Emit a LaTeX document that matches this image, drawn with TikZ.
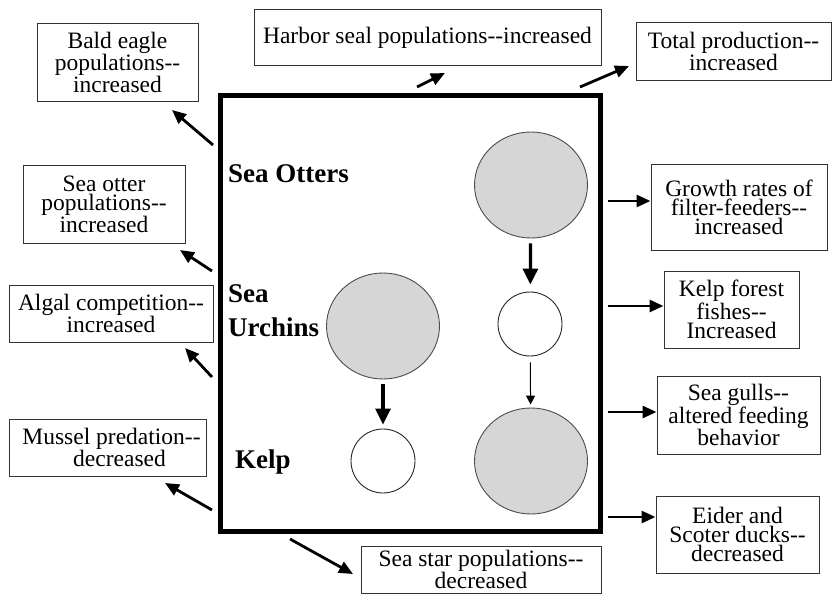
\documentclass[tikz,border=0pt]{standalone}
\usepackage{fontspec}
\setmainfont{Liberation Serif}
\usetikzlibrary{arrows.meta,shapes.geometric}
\begin{document}
\begin{tikzpicture}[x=1pt,y=-1pt,
  infobox/.style={draw=black!80, line width=1pt, align=center, inner sep=0pt,
    font=\fontsize{23.5}{19}\selectfont},
  biglabel/.style={font=\fontsize{27}{34}\selectfont\bfseries, inner sep=0pt, align=left},
  greycirc/.style={ellipse, draw=black!70, line width=0.9pt, fill=black!16,
    minimum width=113pt, minimum height=106pt, inner sep=0pt},
  whitecirc/.style={circle, draw=black!85, line width=0.9pt, fill=white,
    minimum size=64pt, inner sep=0pt},
  outarrow/.style={line width=2.8pt, -{Triangle[length=14pt,width=12pt]}},
  thickarrow/.style={line width=3.2pt, -{Triangle[length=16pt,width=15pt]}},
  thinarrow/.style={line width=1pt, -{Triangle[length=9pt,width=9pt]}}
]
\useasboundingbox (0,0) rectangle (832,594);

% main frame
\node[draw=black, line width=5pt, minimum width=380pt, minimum height=436pt, inner sep=0pt] (frame) at (410,313) {};

% labels inside
\node[biglabel, anchor=base west] (lotters) at (228,182) {Sea Otters};
\node[biglabel, anchor=west] (lurchins) at (228,311) {Sea\\Urchins};
\node[biglabel, anchor=base west] (lkelp) at (235,468) {Kelp};

% circles
\node[greycirc] (otterhigh) at (531,185) {};
\node[whitecirc] (urchinlow) at (530,324) {};
\node[greycirc] (kelphigh) at (531,461) {};
\node[greycirc] (urchinhigh) at (383,326) {};
\node[whitecirc] (kelplow) at (383,461) {};

\draw[thickarrow, shorten <=5pt, shorten >=7pt] (otterhigh) -- (urchinlow);
\draw[thinarrow, shorten <=6pt, shorten >=3pt] (urchinlow) -- (kelphigh);
\draw[thickarrow, shorten <=5pt, shorten >=4pt] (urchinhigh) -- (kelplow);

% outside boxes
\node[infobox, minimum width=161pt, minimum height=77pt] (bald) at (117.5,62.5) {Bald eagle\\populations-{}-\\increased};
\node[infobox, minimum width=347pt, minimum height=56pt] (harbor) at (427.5,38) {Harbor seal populations-{}-increased};
\node[infobox, minimum width=195pt, minimum height=57pt] (total) at (733.5,51.5) {Total production-{}-\\increased};
\node[infobox, minimum width=162pt, minimum height=78pt] (otterpop) at (104,204) {Sea otter\\populations-{}-\\increased};
\node[infobox, minimum width=204pt, minimum height=57pt] (algal) at (111,313.5) {Algal competition-{}-\\increased};
\node[infobox, minimum width=197pt, minimum height=57pt] (mussel) at (107.5,447.5) {\hspace*{8pt}Mussel predation-{}-\\\hspace*{24pt}decreased};
\node[infobox, minimum width=240pt, minimum height=47pt] (seastar) at (481,569.5) {Sea star populations-{}-\\decreased};
\node[infobox, minimum width=176pt, minimum height=86pt] (growth) at (739,207) {Growth rates of\\filter-feeders-{}-\\increased};
\node[infobox, minimum width=135pt, minimum height=77pt] (kelpfish) at (731.5,309.5) {Kelp forest\\fishes-{}-\\Increased};
\node[infobox, minimum width=163pt, minimum height=78pt] (gulls) at (738.5,415) {Sea gulls-{}-\\altered feeding\\behavior};
\node[infobox, minimum width=163pt, minimum height=77pt] (eider) at (737.5,534.5) {Eider and\\Scoter ducks-{}-\\decreased};

% arrow end points
\coordinate (tbald) at (213,145);   \coordinate (hbald) at (172,110);
\coordinate (tharbor) at (417,87);  \coordinate (hharbor) at (445,73);
\coordinate (ttotal) at (580,87);   \coordinate (htotal) at (629,66);
\coordinate (totter) at (212,271);  \coordinate (hotter) at (180,250);
\coordinate (talgal) at (212,377);  \coordinate (halgal) at (185,348);
\coordinate (tmussel) at (212,510); \coordinate (hmussel) at (165,483);
\coordinate (tstar) at (290,539);   \coordinate (hstar) at (353,574);
\coordinate (tgrowth) at (608,201); \coordinate (tkelpf) at (608,306);
\coordinate (tgulls) at (608,412);  \coordinate (teider) at (608,517);

\draw[outarrow] (tbald) -- (hbald);
\draw[outarrow] (tharbor) -- (hharbor);
\draw[outarrow] (ttotal) -- (htotal);
\draw[outarrow] (totter) -- (hotter);
\draw[outarrow] (talgal) -- (halgal);
\draw[outarrow] (tmussel) -- (hmussel);
\draw[outarrow] (tstar) -- (hstar);
\draw[outarrow] (tgrowth) -- (tgrowth -| growth.west);
\draw[outarrow] (tkelpf) -- (tkelpf -| kelpfish.west) ;
\draw[outarrow] (tgulls) -- (tgulls -| gulls.west);
\draw[outarrow] (teider) -- (teider -| eider.west);
\end{tikzpicture}
\end{document}
